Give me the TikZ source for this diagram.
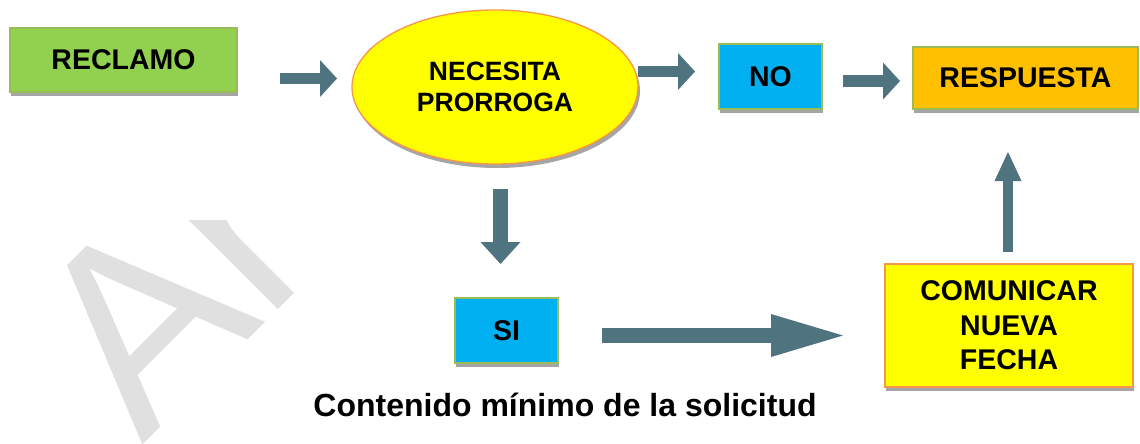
\documentclass[tikz,border=0pt]{standalone}
\usepackage{fontspec}
\setmainfont{Liberation Sans}
\usetikzlibrary{arrows.meta,shapes.geometric,shadows}
\definecolor{arrowc}{RGB}{79,116,127}
\definecolor{gfill}{RGB}{146,208,80}
\definecolor{gborder}{RGB}{155,187,89}
\definecolor{bfill}{RGB}{0,176,240}
\definecolor{ofill}{RGB}{255,192,0}
\definecolor{yfill}{RGB}{255,255,0}
\definecolor{oborder}{RGB}{247,150,70}
\definecolor{shadowc}{RGB}{165,165,165}
\definecolor{wmc}{RGB}{224,224,224}
\begin{document}
\begin{tikzpicture}[x=1pt,y=-1pt,
  boxshadow/.style={drop shadow={shadow xshift=1pt,shadow yshift=-4pt,fill=shadowc,opacity=1}},
  gbox/.style={rectangle,draw=gborder,line width=1.3pt,inner sep=0pt,boxshadow,
    font=\fontsize{28.5}{34}\selectfont\bfseries},
  ybox/.style={rectangle,draw=oborder,line width=1.3pt,inner sep=0pt,fill=yfill,boxshadow,
    align=center,font=\fontsize{28.5}{34.5}\selectfont\bfseries},
  ell/.style={ellipse,draw=oborder,line width=1.3pt,fill=yfill,inner sep=0pt,
    drop shadow={shadow xshift=2pt,shadow yshift=-4pt,fill=shadowc,opacity=1},
    align=center,font=\fontsize{26.5}{31.5}\selectfont\bfseries},
  barrow/.style={draw=arrowc}
]
\useasboundingbox (0,0) rectangle (1140,444);
% watermark
\begin{scope}
\clip (0,220) rectangle (1140,444);
\node[rotate=45,anchor=base west,inner sep=0pt,text=wmc,font=\fontsize{262}{262}\selectfont] (wm) at (142,446) {Ar};
\end{scope}
% nodes
\node[gbox,fill=gfill,minimum width=227pt,minimum height=64pt] (reclamo) at (123.5,60) {RECLAMO};
\node[ell,minimum width=286pt,minimum height=154pt] (necesita) at (495,87) {NECESITA\\PRORROGA};
\node[gbox,fill=bfill,minimum width=103pt,minimum height=65pt] (no) at (770.5,76.5) {NO};
\node[gbox,fill=ofill,minimum width=225pt,minimum height=62pt] (resp) at (1025.5,78) {RESPUESTA};
\node[gbox,fill=bfill,minimum width=103pt,minimum height=65pt] (si) at (506.5,330.5) {SI};
\node[ybox,minimum width=248pt,minimum height=123pt] (comunicar) at (1009,325.5) {COMUNICAR\\NUEVA\\FECHA};
\node[font=\fontsize{32}{36}\selectfont\bfseries,inner sep=0pt] (caption) at (565,405) {Contenido mínimo de la solicitud};
% arrow coordinates
\coordinate (a1s) at (280,78.5); \coordinate (a1e) at (337,78.5);
\coordinate (a2s) at (638,71.5); \coordinate (a2e) at (695,71.5);
\coordinate (a3s) at (843,81);   \coordinate (a3e) at (900,81);
\coordinate (a4s) at (500.5,189); \coordinate (a4e) at (500.5,264);
\coordinate (a5s) at (602,335.5); \coordinate (a5e) at (843,335.5);
\coordinate (a6s) at (1008,252); \coordinate (a6e) at (1008,152);
\draw[barrow,line width=11pt,-{Triangle[width=37pt,length=17pt,line width=0pt]}] (a1s) -- (a1e);
\draw[barrow,line width=11pt,-{Triangle[width=37pt,length=17pt,line width=0pt]}] (a2s) -- (a2e);
\draw[barrow,line width=12pt,-{Triangle[width=37pt,length=17pt,line width=0pt]}] (a3s) -- (a3e);
\draw[barrow,line width=15pt,-{Triangle[width=40pt,length=22pt,line width=0pt]}] (a4s) -- (a4e);
\draw[barrow,line width=15pt,-{Triangle[width=43pt,length=72pt,line width=0pt]}] (a5s) -- (a5e);
\draw[barrow,line width=10pt,-{Triangle[width=27pt,length=29pt,line width=0pt]}] (a6s) -- (a6e);
\end{tikzpicture}
\end{document}
